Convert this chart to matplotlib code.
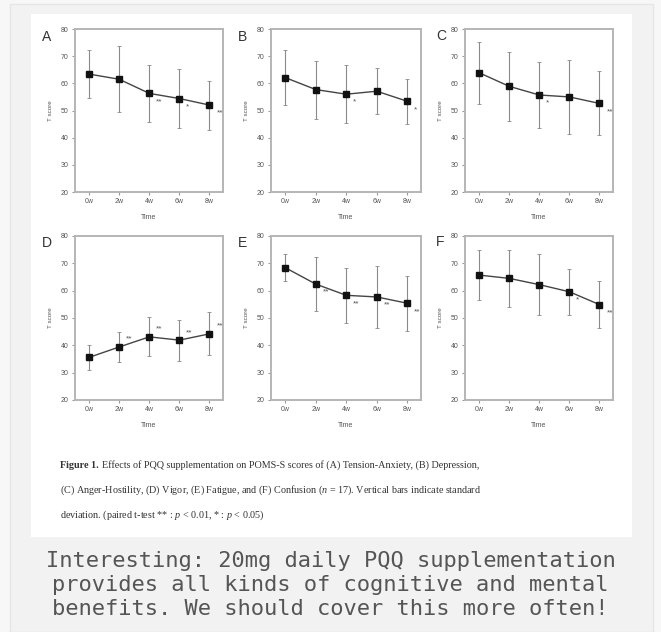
import matplotlib
matplotlib.use("Agg")
import matplotlib.pyplot as plt
from matplotlib.patches import Rectangle

W, H = 661, 632

# data (T score mean / SD)
weeks = ["0w", "2w", "4w", "6w", "8w"]
panels = ["A", "B", "C", "D", "E", "F"]
means = {
    "A": [63.4, 61.5, 56.3, 54.4, 52.0],
    "B": [62.1, 57.7, 56.0, 57.1, 53.4],
    "C": [63.9, 58.9, 55.7, 55.0, 52.6],
    "D": [35.6, 39.4, 43.1, 41.9, 44.2],
    "E": [68.4, 62.4, 58.3, 57.7, 55.4],
    "F": [65.7, 64.5, 62.2, 59.6, 54.9],
}
sds = {
    "A": [8.8, 12.1, 10.6, 11.0, 9.0],
    "B": [10.0, 10.7, 10.6, 8.4, 8.2],
    "C": [11.4, 12.8, 12.0, 13.7, 11.8],
    "D": [4.6, 5.4, 7.1, 7.5, 7.9],
    "E": [5.0, 9.8, 10.1, 11.3, 10.1],
    "F": [9.2, 10.3, 11.2, 8.4, 8.5],
}
marks = {
    "A": ["", "", "**", "*", "**"],
    "B": ["", "", "*", "", "*"],
    "C": ["", "", "*", "", "**"],
    "D": ["", "**", "**", "**", "**"],
    "E": ["", "**", "**", "**", "**"],
    "F": ["", "", "", "*", "**"],
}

caption_lines = [
    "Effects of PQQ supplementation on POMS-S scores of (A) Tension-Anxiety, (B) Depression,",
    "(C) Anger-Hostility, (D) Vigor, (E) Fatigue, and (F) Confusion ($n$ = 17). Vertical bars indicate standard",
    "deviation. (paired t-test ** : $p$ < 0.01, * : $p$ < 0.05)",
]
comment = "Interesting: 20mg daily PQQ supplementation\nprovides all kinds of cognitive and mental\nbenefits. We should cover this more often!"

plt.rcParams["font.family"] = ["Liberation Sans", "DejaVu Sans"]
plt.rcParams["mathtext.fontset"] = "custom"
plt.rcParams["mathtext.rm"] = "Liberation Serif"
plt.rcParams["mathtext.it"] = "Liberation Serif:italic"


def box(x0, y0, x1, y1):
    return [x0 / W, 1 - y1 / H, (x1 - x0) / W, (y1 - y0) / H]


fig = plt.figure(figsize=(W / 100, H / 100), dpi=100)
fig.patch.set_facecolor("#f7f7f7")
# card and white panel (behind the axes)
b = box(10, 4, 653, 632)
fig.patches.append(Rectangle((b[0], b[1]), b[2], b[3], transform=fig.transFigure,
                             facecolor="#f2f2f2", edgecolor="#e6e6e6", lw=1, zorder=-20))
b = box(31, 14, 632, 537)
fig.patches.append(Rectangle((b[0], b[1]), b[2], b[3], transform=fig.transFigure,
                             facecolor="white", edgecolor="none", zorder=-10))

cols = [(75, 223), (271, 421), (465, 613)]
rows = [(29, 192), (236, 400)]
letter_pos = [(47, 37), (242, 37), (441, 36), (47, 243), (242, 243), (440, 242)]

x = list(range(len(weeks)))
for i, p in enumerate(panels):
    x0, x1 = cols[i % 3]
    y0, y1 = rows[i // 3]
    ax = fig.add_axes(box(x0, y0, x1, y1))
    ax.patch.set_alpha(0)
    ax.errorbar(x, means[p], yerr=sds[p], color="#444444", lw=1.0,
                ecolor="#8a8a8a", elinewidth=0.8, capsize=1.5, capthick=0.6,
                marker="s", ms=3.8, mfc="#111111", mec="#111111")
    dy = 2.8 if p == "D" else -3.0
    for xi, m, s in zip(x, means[p], marks[p]):
        if s:
            ax.annotate(s, (xi, m + dy), xytext=(5, 0), textcoords="offset points",
                        fontsize=6, color="#555555", va="center", ha="left")
    ax.set_xlim(-0.47, 4.45)
    ax.set_ylim(20, 80)
    ax.set_yticks(range(20, 81, 10))
    ax.set_xticks(x)
    ax.set_xticklabels(weeks)
    for sp in ax.spines.values():
        sp.set_color("#b5b5b5")
        sp.set_linewidth(1.4)
    ax.tick_params(labelsize=5, colors="#999999", labelcolor="#555555",
                   length=2.5, width=0.8, pad=2)
    ax.set_xlabel("Time", fontsize=5, color="#555555", labelpad=6)
    ax.set_ylabel("T score", fontsize=4.5, color="#555555", labelpad=6)
    lx, ly = letter_pos[i]
    fig.text(lx / W, 1 - ly / H, p, fontsize=10, color="#333333",
             ha="center", va="center")

# figure caption
fig.canvas.draw()
r = fig.canvas.get_renderer()
cap_y = [465, 490, 515]
t = fig.text(60 / W, 1 - cap_y[0] / H, "Figure 1.", fontsize=7.3, weight="bold",
             family="Liberation Serif", color="#333333", va="center")
ext = t.get_window_extent(r)
fig.text((ext.x1 + 3) / W, 1 - cap_y[0] / H, caption_lines[0], fontsize=7.3,
         family="Liberation Serif", color="#333333", va="center")
for ln, yy in zip(caption_lines[1:], cap_y[1:]):
    fig.text(60 / W, 1 - yy / H, ln, fontsize=7.3, family="Liberation Serif",
             color="#333333", va="center")

fig.text(0.5, 1 - 585 / H, comment, fontsize=15.8, family="DejaVu Sans Mono",
         color="#555555", ha="center", va="center", linespacing=1.28)

fig.savefig("out.png", dpi=100, facecolor=fig.get_facecolor())
